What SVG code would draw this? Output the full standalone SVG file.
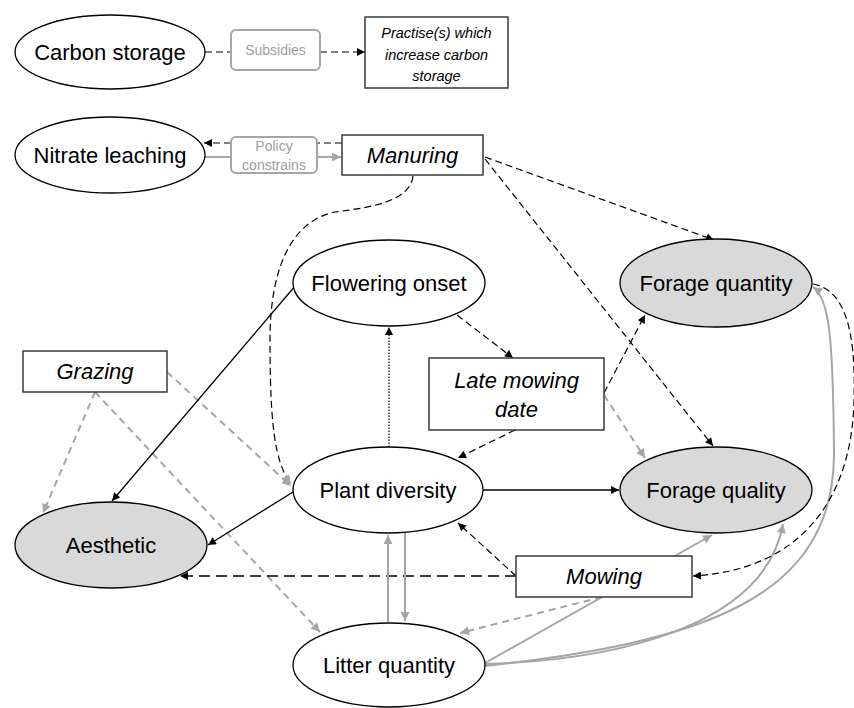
<svg xmlns="http://www.w3.org/2000/svg" width="854" height="708" viewBox="0 0 854 708">
<defs>
<marker id="ab" viewBox="0 0 10 10" refX="10" refY="5" markerWidth="9" markerHeight="8" markerUnits="userSpaceOnUse" orient="auto"><path d="M0,0 L10,5 L0,10 z" fill="#000"/></marker>
<marker id="ag" viewBox="0 0 10 10" refX="10" refY="5" markerWidth="10" markerHeight="9" markerUnits="userSpaceOnUse" orient="auto"><path d="M0,0 L10,5 L0,10 z" fill="#a6a6a6"/></marker>
<style>
.n{fill:#fff;stroke:#000;stroke-width:1.3}
.g{fill:#d9d9d9;stroke:#000;stroke-width:1.3}
.b{fill:#fff;stroke:#3a3a3a;stroke-width:1.5}
.p{fill:#fff;stroke:#a6a6a6;stroke-width:2}
.t{font-family:"Liberation Sans",Arial,sans-serif;font-size:22px;text-anchor:middle;fill:#000}
.i{font-family:"Liberation Sans",Arial,sans-serif;font-size:22px;font-style:italic;text-anchor:middle;fill:#000}
.s{font-family:"Liberation Sans",Arial,sans-serif;font-size:14.5px;font-style:italic;text-anchor:middle;fill:#000}
.gt{font-family:"Liberation Sans",Arial,sans-serif;font-size:14px;text-anchor:middle;fill:#a0a0a0}
.kd{fill:none;stroke:#000;stroke-width:1.2;stroke-dasharray:7 4}
.kl{fill:none;stroke:#000;stroke-width:1.5;stroke-dasharray:11 6}
.ks{fill:none;stroke:#000;stroke-width:1.3}
.kt{fill:none;stroke:#000;stroke-width:1.2;stroke-dasharray:1.5 1.5}
.gd{fill:none;stroke:#a6a6a6;stroke-width:2;stroke-dasharray:7 5}
.gs{fill:none;stroke:#a6a6a6;stroke-width:2}
</style>
</defs>
<rect width="854" height="708" fill="#fff"/>
<g id="connectors">
<path class="kd" d="M205,52 L231,52"/>
<path class="kd" d="M320,52 L365,52" marker-end="url(#ab)"/>
<path class="kd" d="M342,143 L317,143"/>
<path class="kd" d="M231,143 L204,143" marker-end="url(#ab)"/>
<path class="gs" d="M205,157 L231,157"/>
<path class="gs" d="M317,157 L341,157" marker-end="url(#ag)"/>
<path class="kd" d="M485,157 L714,240" marker-end="url(#ab)"/>
<path class="kd" d="M485,159 L713,446" marker-end="url(#ab)"/>
<path class="kd" d="M413,176 C410,203 365,208 335,212 C295,220 270,262 270,340 C270,420 274,462 291,484" marker-end="url(#ag)"/>
<path class="gd" d="M167,372 L291,486" marker-end="url(#ag)"/>
<path class="gd" d="M95,392 L43,513" marker-end="url(#ag)"/>
<path class="gd" d="M95,392 L320,632" marker-end="url(#ag)"/>
<path class="ks" d="M296,285 L112,501" marker-end="url(#ab)"/>
<path class="ks" d="M293,492 L208,545" marker-end="url(#ab)"/>
<path class="kt" d="M389,447 L389,327" marker-end="url(#ab)"/>
<path class="kd" d="M457,315 L513,358" marker-end="url(#ab)"/>
<path class="kd" d="M515,430 L458,458" marker-end="url(#ab)"/>
<path class="kd" d="M604,393 L645,315" marker-end="url(#ab)"/>
<path class="gd" d="M604,395 L645,458" marker-end="url(#ag)"/>
<path class="ks" d="M483,490 L619,490" marker-end="url(#ab)"/>
<path class="kd" d="M516,576 L458,523" marker-end="url(#ab)"/>
<path class="kl" d="M516,576 L180,576" marker-end="url(#ab)"/>
<path class="gd" d="M602,597 L460,633" marker-end="url(#ag)"/>
<path class="gs" d="M485,663 L712,535" marker-end="url(#ag)"/>
<path class="gs" d="M485,664 C620,660 765,625 783,524" marker-end="url(#ag)"/>
<path class="gs" d="M485,666 C700,642 836,600 834,450 C833,335 829,298 813,287" marker-end="url(#ag)"/>
<path class="kd" d="M813,284 C845,290 856,330 854,400 C852,500 800,570 693,576" marker-end="url(#ab)"/>
<path class="gs" d="M388,622 L388,535" marker-end="url(#ag)"/>
<path class="gs" d="M405,533 L405,621" marker-end="url(#ag)"/>
</g>
<g id="carbon-storage"><ellipse class="n" cx="110" cy="52" rx="95" ry="37"/><text class="t" x="110" y="60">Carbon storage</text></g>
<g id="subsidies"><rect class="p" x="231" y="30" width="89" height="40" rx="5"/><text class="gt" x="275.5" y="55">Subsidies</text></g>
<g id="practise"><rect class="b" x="365" y="17" width="143" height="71"/><text class="s" x="436.5" y="38">Practise(s) which</text><text class="s" x="436.5" y="60">increase carbon</text><text class="s" x="436.5" y="81">storage</text></g>
<g id="nitrate-leaching"><ellipse class="n" cx="110" cy="155" rx="95" ry="38"/><text class="t" x="110" y="163">Nitrate leaching</text></g>
<g id="policy"><rect class="p" x="231" y="137" width="86" height="36" rx="5"/><text class="gt" x="274" y="151">Policy</text><text class="gt" x="274" y="170">constrains</text></g>
<g id="manuring"><rect class="b" x="342" y="135" width="141" height="40"/><text class="i" x="412.5" y="163">Manuring</text></g>
<g id="flowering-onset"><ellipse class="n" cx="389" cy="283" rx="96" ry="43"/><text class="t" x="389" y="291">Flowering onset</text></g>
<g id="forage-quantity"><ellipse class="g" cx="716" cy="283" rx="96" ry="44"/><text class="t" x="716" y="291">Forage quantity</text></g>
<g id="grazing"><rect class="b" x="23" y="351" width="144" height="41"/><text class="i" x="95" y="379">Grazing</text></g>
<g id="late-mowing-date"><rect class="b" x="429" y="358" width="175" height="72"/><text class="i" x="516.5" y="388">Late mowing</text><text class="i" x="516.5" y="417">date</text></g>
<g id="plant-diversity"><ellipse class="n" cx="388" cy="490" rx="95" ry="43"/><text class="t" x="388" y="498">Plant diversity</text></g>
<g id="forage-quality"><ellipse class="g" cx="716" cy="490" rx="96" ry="43"/><text class="t" x="716" y="498">Forage quality</text></g>
<g id="aesthetic"><ellipse class="g" cx="111" cy="545" rx="96" ry="43"/><text class="t" x="111" y="553">Aesthetic</text></g>
<g id="mowing"><rect class="b" x="516" y="556" width="176" height="41"/><text class="i" x="604" y="584">Mowing</text></g>
<g id="litter-quantity"><ellipse class="n" cx="389" cy="665" rx="96" ry="42"/><text class="t" x="389" y="673">Litter quantity</text></g>
</svg>
